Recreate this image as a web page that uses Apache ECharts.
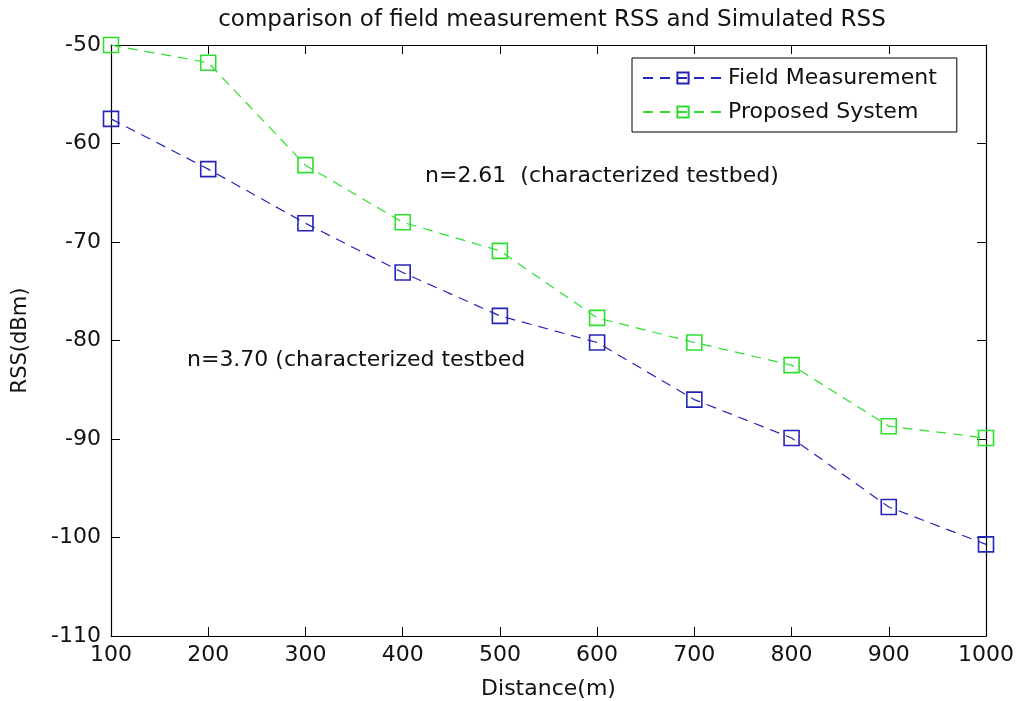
<!DOCTYPE html>
<html>
<head>
<meta charset="utf-8">
<script src="https://cdn.jsdelivr.net/npm/echarts@6/dist/echarts.min.js"></script>
<style>
  html, body { margin: 0; padding: 0; background: #fff; }
  #chart { width: 1016px; height: 701px; }
</style>
</head>
<body>
<div id="chart"></div>
<script>
const distances = [100, 200, 300, 400, 500, 600, 700, 800, 900, 1000];
const fieldMeasurement = [-57.5, -62.6, -68.1, -73.1, -77.5, -80.2, -86.0, -89.9, -96.9, -100.7];
const proposedSystem = [-50.0, -51.8, -62.2, -68.0, -70.9, -77.7, -80.2, -82.5, -88.7, -89.9];
const annotations = ['n=2.61  (characterized testbed)', 'n=3.70 (characterized testbed'];

const font = 'DejaVu Sans';
const blue = '#2424b8';
const green = '#2ee02e';

const chart = echarts.init(document.getElementById('chart'));

const makeSeries = (name, values, color) => ({
  name: name,
  type: 'line',
  data: distances.map((d, i) => [d, values[i]]),
  symbol: 'rect',
  symbolSize: 15,
  lineStyle: { color: color, width: 1.2, type: [10, 7] },
  itemStyle: { color: 'rgba(0,0,0,0)', borderColor: color, borderWidth: 1.6 },
  emphasis: { disabled: true },
  z: 3,
});

// 四边都有刻度的框
const tickStyle = { inside: true, length: 9, lineStyle: { color: '#000' } };
const lineStyle = { show: true, lineStyle: { color: '#000', width: 1.2 } };

const option = {
  backgroundColor: '#fff',
  animation: false,
  title: {
    text: 'comparison of field measurement RSS and Simulated RSS',
    left: 547,
    top: 4,
    textAlign: 'center',
    textStyle: { fontFamily: font, fontSize: 23, fontWeight: 'normal', color: '#111' },
  },
  grid: { left: 111, right: 30, top: 45, bottom: 65, outerBoundsMode: 'none' },
  legend: {
    orient: 'vertical',
    left: 632,
    top: 58,
    padding: [9, 20, 9, 10],
    itemGap: 12,
    itemWidth: 80,
    itemHeight: 14,
    backgroundColor: '#fff',
    borderColor: '#000',
    borderWidth: 1,
    borderRadius: 0,
    textStyle: { fontFamily: font, fontSize: 22, color: '#111' },
    data: ['Field Measurement', 'Proposed System'],
  },
  xAxis: [
    {
      type: 'value',
      min: 100,
      max: 1000,
      interval: 100,
      name: 'Distance(m)',
      nameLocation: 'middle',
      nameGap: 42,
      nameTextStyle: { fontFamily: font, fontSize: 22, color: '#111' },
      axisLine: lineStyle,
      axisTick: tickStyle,
      axisLabel: { fontFamily: font, fontSize: 22, color: '#111', margin: 8, formatter: v => String(v) },
      splitLine: { show: false },
    },
    {
      type: 'value',
      position: 'top',
      min: 100,
      max: 1000,
      interval: 100,
      axisLine: lineStyle,
      axisTick: tickStyle,
      axisLabel: { show: false },
      splitLine: { show: false },
    },
  ],
  yAxis: [
    {
      type: 'value',
      min: -110,
      max: -50,
      interval: 10,
      name: 'RSS(dBm)',
      nameLocation: 'middle',
      nameGap: 80,
      nameTextStyle: { fontFamily: font, fontSize: 21, color: '#111' },
      axisLine: lineStyle,
      axisTick: { show: true, ...tickStyle },
      axisLabel: { fontFamily: font, fontSize: 22, color: '#111', margin: 10 },
      splitLine: { show: false },
    },
    {
      type: 'value',
      position: 'right',
      min: -110,
      max: -50,
      interval: 10,
      axisLine: lineStyle,
      axisTick: { show: true, ...tickStyle },
      axisLabel: { show: false },
      splitLine: { show: false },
    },
  ],
  graphic: [
    {
      type: 'text',
      left: 425,
      top: 165,
      style: { text: annotations[0], fontFamily: font, fontSize: 22, fill: '#111' },
    },
    {
      type: 'text',
      left: 187,
      top: 349,
      style: { text: annotations[1], fontFamily: font, fontSize: 22, fill: '#111' },
    },
  ],
  series: [
    makeSeries('Field Measurement', fieldMeasurement, blue),
    makeSeries('Proposed System', proposedSystem, green),
  ],
};

chart.setOption(option);
</script>
</body>
</html>
